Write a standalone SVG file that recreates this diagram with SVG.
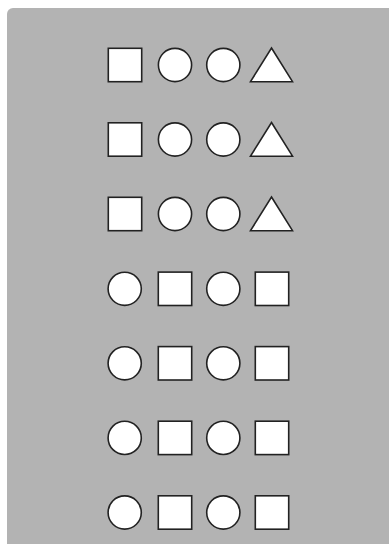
<svg xmlns="http://www.w3.org/2000/svg" width="389" height="544" viewBox="0 0 389 544">
<style>
.s{fill:#fff;stroke:#222;stroke-width:1.6}
</style>
<defs>
<rect id="sq" class="s" x="-16.7" y="-16.7" width="33.4" height="33.4"/>
<circle id="ci" class="s" cx="0" cy="0" r="16.6"/>
<polygon id="tr" class="s" points="0,-17 21,16.7 -21,16.7"/>
</defs>
<rect x="7" y="8" width="400" height="560" rx="6" fill="#b3b3b3"/>
<g id="row1" transform="translate(0,65)">
<use href="#sq" x="125"/><use href="#ci" x="175"/><use href="#ci" x="223.3"/><use href="#tr" x="271.5"/>
</g>
<g id="row2" transform="translate(0,139.5)">
<use href="#sq" x="125"/><use href="#ci" x="175"/><use href="#ci" x="223.3"/><use href="#tr" x="271.5"/>
</g>
<g id="row3" transform="translate(0,214)">
<use href="#sq" x="125"/><use href="#ci" x="175"/><use href="#ci" x="223.3"/><use href="#tr" x="271.5"/>
</g>
<g id="row4" transform="translate(0,288.8)">
<use href="#ci" x="124.7"/><use href="#sq" x="175"/><use href="#ci" x="223.3"/><use href="#sq" x="272"/>
</g>
<g id="row5" transform="translate(0,363.3)">
<use href="#ci" x="124.7"/><use href="#sq" x="175"/><use href="#ci" x="223.3"/><use href="#sq" x="272"/>
</g>
<g id="row6" transform="translate(0,437.9)">
<use href="#ci" x="124.7"/><use href="#sq" x="175"/><use href="#ci" x="223.3"/><use href="#sq" x="272"/>
</g>
<g id="row7" transform="translate(0,512.5)">
<use href="#ci" x="124.7"/><use href="#sq" x="175"/><use href="#ci" x="223.3"/><use href="#sq" x="272"/>
</g>
</svg>
